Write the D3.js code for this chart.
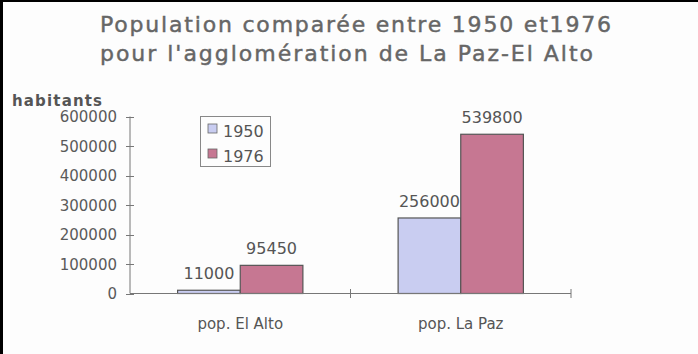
<!DOCTYPE html>
<html>
<head>
<meta charset="utf-8">
<script src="https://cdn.jsdelivr.net/npm/d3@7"></script>
<style>
html,body{margin:0;padding:0;background:#fdfdfd;}
svg{display:block;}
text{font-family:"DejaVu Sans",Verdana,sans-serif;fill:#555;}
</style>
</head>
<body>
<svg id="chart" width="698" height="354"></svg>
<script>
const categories = ["pop. El Alto", "pop. La Paz"];
const series = ["1950", "1976"];
const values1950 = [11000, 256000];
const values1976 = [95450, 539800];
const yTicks = [0, 100000, 200000, 300000, 400000, 500000, 600000];
const titleLines = ["Population comparée entre 1950 et1976", "pour l'agglomération de La Paz-El Alto"];
const yAxisLabel = "habitants";
const colors = {"1950": "#c9cdf1", "1976": "#c67792"};

const svg = d3.select("#chart");
svg.append("rect").attr("width", 698).attr("height", 354).attr("fill", "#fdfdfd");
svg.append("rect").attr("x", 0).attr("y", 0).attr("width", 698).attr("height", 2).attr("fill", "#000");
svg.append("rect").attr("x", 0).attr("y", 0).attr("width", 3).attr("height", 354).attr("fill", "#000");

// Title
const tl = [{t: titleLines[0], y: 32, w: 511}, {t: titleLines[1], y: 61, w: 493}];
svg.selectAll("text.title").data(tl).enter().append("text")
  .attr("class", "title")
  .attr("x", 100).attr("y", d => d.y)
  .attr("textLength", d => d.w).attr("lengthAdjust", "spacing")
  .style("font-size", "22px").style("fill", "#666")
  .style("stroke", "#666").style("stroke-width", 0.45)
  .text(d => d.t);

const y = d3.scaleLinear().domain([0, 600000]).range([293.5, 116.5]);
const x = d3.scaleBand().domain(categories).range([130, 571]).paddingInner(0).paddingOuter(0);
const x1 = d3.scaleBand().domain(series).range([0, x.bandwidth()]).paddingInner(0).paddingOuter(0.76);

// habitants label
svg.append("text").attr("x", 12).attr("y", 106)
  .attr("textLength", 90).attr("lengthAdjust", "spacing")
  .style("font-size", "15px").style("font-weight", "bold").style("fill", "#555")
  .text(yAxisLabel);

// Y axis
const axisColor = "#777";
svg.append("line").attr("x1", 130).attr("x2", 130).attr("y1", y(600000)).attr("y2", y(0))
  .attr("stroke", axisColor).attr("stroke-width", 1);
svg.selectAll("line.yt").data(yTicks).enter().append("line")
  .attr("x1", 126).attr("x2", 134)
  .attr("y1", d => Math.round(y(d)) + 0.5).attr("y2", d => Math.round(y(d)) + 0.5)
  .attr("stroke", axisColor);
svg.selectAll("text.yl").data(yTicks).enter().append("text")
  .attr("x", 117).attr("y", d => y(d) + 5.5)
  .attr("text-anchor", "end").style("font-size", "15px").style("fill", "#5a5a5a")
  .text(d => d3.format("d")(d));

// Bars
const data = categories.map((c, i) => ({cat: c, vals: [{s: "1950", v: values1950[i]}, {s: "1976", v: values1976[i]}]}));
const g = svg.selectAll("g.grp").data(data).enter().append("g")
  .attr("transform", d => `translate(${x(d.cat)},0)`);
g.selectAll("rect").data(d => d.vals).enter().append("rect")
  .attr("x", d => x1(d.s)).attr("width", x1.bandwidth())
  .attr("y", d => y(d.v)).attr("height", d => y(0) - y(d.v))
  .attr("fill", d => colors[d.s]).attr("stroke", "#555").attr("stroke-width", 1.2);
g.selectAll("text").data(d => d.vals).enter().append("text")
  .attr("x", d => x1(d.s) + x1.bandwidth() / 2).attr("y", d => y(d.v) - 11)
  .attr("text-anchor", "middle").style("font-size", "16px").style("fill", "#555")
  .text(d => d.v);

// X axis
svg.append("line").attr("x1", 130).attr("x2", 571).attr("y1", y(0)).attr("y2", y(0))
  .attr("stroke", axisColor);
svg.selectAll("line.xt").data(categories).enter().append("line")
  .attr("x1", d => x(d) + x.bandwidth()).attr("x2", d => x(d) + x.bandwidth())
  .attr("y1", y(0) - 4.5).attr("y2", y(0) + 4.5).attr("stroke", axisColor);
svg.selectAll("text.xl").data(categories).enter().append("text")
  .attr("x", d => x(d) + x.bandwidth() / 2).attr("y", 329)
  .attr("text-anchor", "middle").style("font-size", "15px").style("fill", "#555")
  .text(d => d);

// Legend
const lg = svg.append("g");
lg.append("rect").attr("x", 200.5).attr("y", 116.5).attr("width", 70).attr("height", 50)
  .attr("fill", "none").attr("stroke", "#888");
lg.selectAll("rect.sw").data(series).enter().append("rect")
  .attr("x", 208).attr("y", (d, i) => 124 + i * 25).attr("width", 9).attr("height", 9)
  .attr("fill", d => colors[d]).attr("stroke", "#666").attr("stroke-width", 0.8);
lg.selectAll("text").data(series).enter().append("text")
  .attr("x", 223).attr("y", (d, i) => 137 + i * 25)
  .style("font-size", "16px").style("fill", "#555")
  .text(d => d);
</script>
</body>
</html>
